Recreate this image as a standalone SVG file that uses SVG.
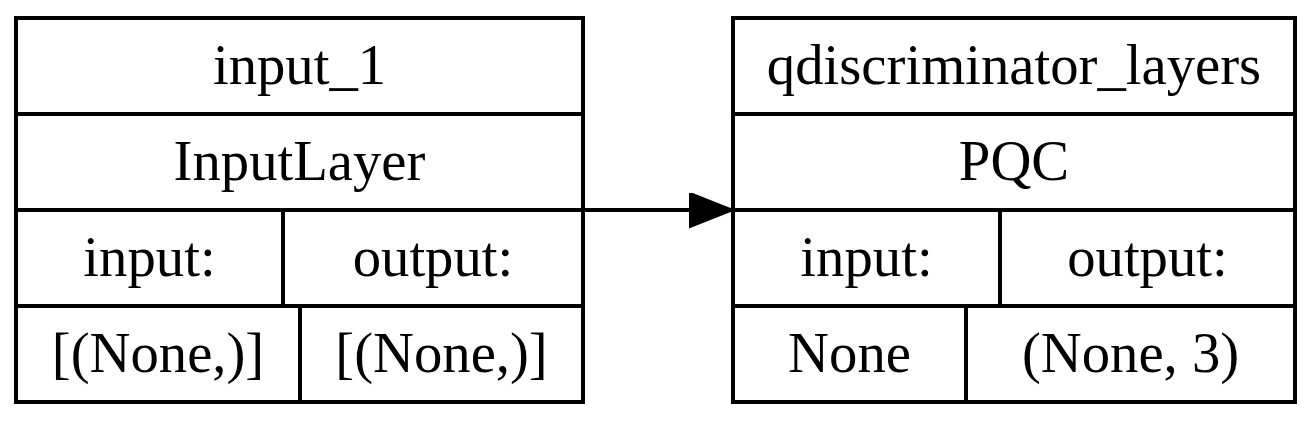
<svg xmlns="http://www.w3.org/2000/svg" width="1312" height="421" viewBox="0 0 1312 421">
<style>
.b{fill:none;stroke:#000;stroke-width:4}
.t{font-family:"Liberation Serif","Times New Roman",serif;font-size:56.7px;text-anchor:middle;fill:#000}
</style>
<defs>
<marker id="ah" markerUnits="userSpaceOnUse" markerWidth="46" markerHeight="36" refX="44" refY="17" orient="auto">
<polygon points="1,0 44,17 1,34" fill="#000" stroke="#000" stroke-width="2"/>
</marker>
</defs>
<rect width="1312" height="421" fill="#fff"/>
<g id="connectors">
<line x1="583" y1="210" x2="733" y2="210" stroke="#000" stroke-width="4" marker-end="url(#ah)"/>
</g>
<g id="input_1">
<rect class="b" x="16" y="18" width="567" height="384"/>
<path class="b" d="M16 114H583M16 210H583M16 306H583M283 210V306M300 306V402"/>
<text class="t" x="299.5" y="84">input_1</text>
<text class="t" x="299.5" y="180">InputLayer</text>
<text class="t" x="149.5" y="276">input:</text>
<text class="t" x="433" y="276">output:</text>
<text class="t" x="158" y="372">[(None,)]</text>
<text class="t" x="441.5" y="372">[(None,)]</text>
</g>
<g id="qdiscriminator_layers">
<rect class="b" x="733" y="18" width="562" height="384"/>
<path class="b" d="M733 114H1295M733 210H1295M733 306H1295M1000 210V306M966 306V402"/>
<text class="t" x="1014" y="84">qdiscriminator_layers</text>
<text class="t" x="1014" y="180">PQC</text>
<text class="t" x="866.5" y="276">input:</text>
<text class="t" x="1147.5" y="276">output:</text>
<text class="t" x="849.5" y="372">None</text>
<text class="t" x="1130.5" y="372">(None, 3)</text>
</g>
</svg>
